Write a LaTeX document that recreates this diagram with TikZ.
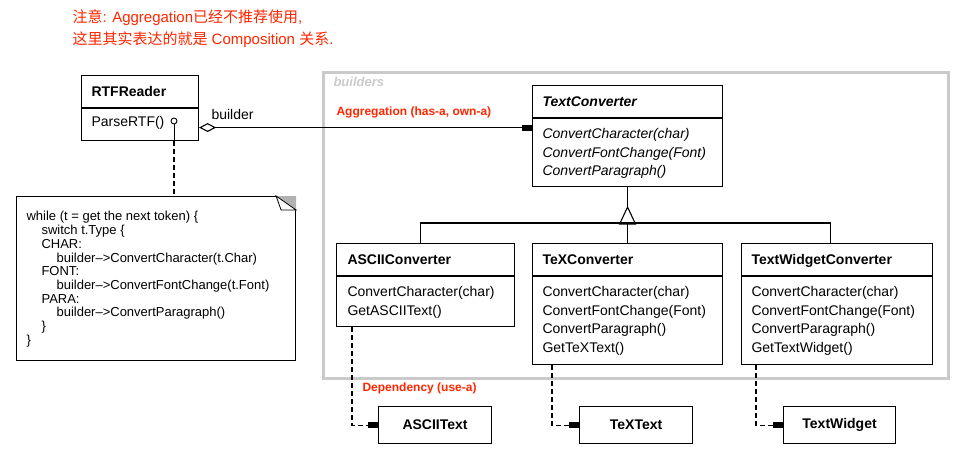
\documentclass[tikz,border=0pt]{standalone}
\usepackage{fontspec}
\setmainfont{Liberation Sans}
\newfontfamily\cjk{Noto Sans CJK SC}
\usetikzlibrary{arrows.meta}
\definecolor{notered}{RGB}{255,38,0}
\definecolor{framegray}{RGB}{202,202,202}

\begin{document}
\begin{tikzpicture}[x=1pt,y=-1pt,line width=1.1pt]
\tikzstyle{every node}+=[inner sep=0pt]
\tikzstyle{cls}=[draw=black,anchor=north west]
\tikzstyle{cname}=[anchor=base west,font=\bfseries\fontsize{14}{17}\selectfont]
\tikzstyle{cops}=[anchor=north west,align=left,font=\fontsize{14}{18.5}\selectfont]
\tikzstyle{redlabel}=[anchor=base west,text=notered,font=\bfseries\fontsize{12}{14}\selectfont]
\tikzstyle{dep}=[dash pattern=on 5pt off 3pt,-{Rectangle[length=10pt,width=6pt]}]
\useasboundingbox (0,0) rectangle (975,461);
\node [anchor=base west,text=notered,font=\fontsize{15}{22}\selectfont] (note1) at (72,22) {{\cjk 注意}: Aggregation{\cjk 已经不推荐使用},};
\node [anchor=base west,text=notered,font=\fontsize{15}{22}\selectfont] (note2) at (72,44) {{\cjk 这里其实表达的就是} Composition {\cjk 关系}.};
\node [draw=framegray,line width=2.5pt,anchor=north west,minimum width=625pt,minimum height=306pt] (builders) at (322,71) {};
\node [anchor=base west,text=framegray,font=\bfseries\itshape\fontsize{13}{15}\selectfont] (builderstitle) at (333,86) {builders};
\node [cls,minimum width=117pt,minimum height=65pt] (rtf) at (81,75) {};
\draw ([yshift=-33pt]rtf.north west) -- ([yshift=-33pt]rtf.north east);
\node [cname] (rtfname) at (91,96) {RTFReader};
\node [cops] (rtfops) at (91,116) {ParseRTF()};
\node [cls,minimum width=190pt,minimum height=101pt] (tc) at (532,85) {};
\draw ([yshift=-33pt]tc.north west) -- ([yshift=-33pt]tc.north east);
\node [cname] (tcname) at (542,106) {\itshape TextConverter};
\node [cops,font=\itshape\fontsize{14}{18.5}\selectfont] (tcops) at (542,128) {ConvertCharacter(char)\\ConvertFontChange(Font)\\ConvertParagraph()};
\node [cls,minimum width=178pt,minimum height=83pt] (ascii) at (336,243) {};
\draw ([yshift=-33pt]ascii.north west) -- ([yshift=-33pt]ascii.north east);
\node [cname] (asciiname) at (347,264) {ASCIIConverter};
\node [cops] (asciiops) at (347,286) {ConvertCharacter(char)\\GetASCIIText()};
\node [cls,minimum width=190pt,minimum height=121pt] (tex) at (532,243) {};
\draw ([yshift=-33pt]tex.north west) -- ([yshift=-33pt]tex.north east);
\node [cname] (texname) at (542,264) {TeXConverter};
\node [cops] (texops) at (542,286) {ConvertCharacter(char)\\ConvertFontChange(Font)\\ConvertParagraph()\\GetTeXText()};
\node [cls,minimum width=191pt,minimum height=121pt] (twc) at (741,243) {};
\draw ([yshift=-33pt]twc.north west) -- ([yshift=-33pt]twc.north east);
\node [cname] (twcname) at (751,264) {TextWidgetConverter};
\node [cops] (twcops) at (751,286) {ConvertCharacter(char)\\ConvertFontChange(Font)\\ConvertParagraph()\\GetTextWidget()};
\node [cls,minimum width=113pt,minimum height=37pt,font=\bfseries\fontsize{14}{17}\selectfont] (asciitext) at (378,406) {ASCIIText};
\node [cls,minimum width=113pt,minimum height=37pt,font=\bfseries\fontsize{14}{17}\selectfont] (textext) at (579,406) {TeXText};
\node [cls,minimum width=112pt,minimum height=37pt,font=\bfseries\fontsize{14}{17}\selectfont] (textwidget) at (783,406) {TextWidget};
\node [cls,minimum width=279pt,minimum height=164pt] (note) at (16,196) {};
\fill [gray!60] ([xshift=-20pt]note.north east) -- (note.north east) -- ([yshift=-14pt]note.north east) -- cycle;
\draw [fill=white,line width=0.8pt] ([xshift=-20pt]note.north east) -- ([xshift=-15pt,yshift=-14pt]note.north east) -- ([yshift=-14pt]note.north east) -- cycle;
\node [anchor=north west,align=left,font=\fontsize{13}{13.7}\selectfont] (notetext) at (26,211) {while (t = get the next token) \{\\
\hspace*{15pt}switch t.Type \{\\
\hspace*{15pt}CHAR:\\
\hspace*{30pt}builder–>ConvertCharacter(t.Char)\\
\hspace*{15pt}FONT:\\
\hspace*{30pt}builder–>ConvertFontChange(t.Font)\\
\hspace*{15pt}PARA:\\
\hspace*{30pt}builder–>ConvertParagraph()\\
\hspace*{15pt}\}\\
\}};
\node [draw,circle,line width=0.9pt,minimum size=6pt] (dot) at (174,121) {};
\draw [line width=0.9pt] (dot) -- (dot |- rtf.south);
\draw [dash pattern=on 5pt off 3pt] (dot |- rtf.south) -- (dot |- note.north);
\coordinate (aggfrom) at ([yshift=-19.5pt]rtf.east);
\draw [{Diamond[open,length=17pt,width=9pt]}-{Rectangle[length=10pt,width=6pt]}] (aggfrom) -- (aggfrom -| tc.west);
\node [anchor=base west,font=\fontsize{14}{17}\selectfont] (builderlabel) at (211,119) {builder};
\node [redlabel] (agglabel) at (336,115) {Aggregation (has-a, own-a)};
\draw (tc.south) -- ++(0,20) coordinate (apex);
\draw (apex) -- ++(-8,17) -- ++(16,0) -- cycle;
\draw ([xshift=-5pt]ascii.north) -- ++(0,-20) -| ([xshift=-7pt]twc.north);
\draw (tex.north) -- ++(0,-20);
\draw [dep] ([xshift=16pt]ascii.south west) |- (asciitext.west);
\draw [dep] ([xshift=20pt]tex.south west) |- (textext.west);
\draw [dep] ([xshift=15pt]twc.south west) |- (textwidget.west);
\node [redlabel] (deplabel) at (362,391) {Dependency (use-a)};
\end{tikzpicture}
\end{document}
